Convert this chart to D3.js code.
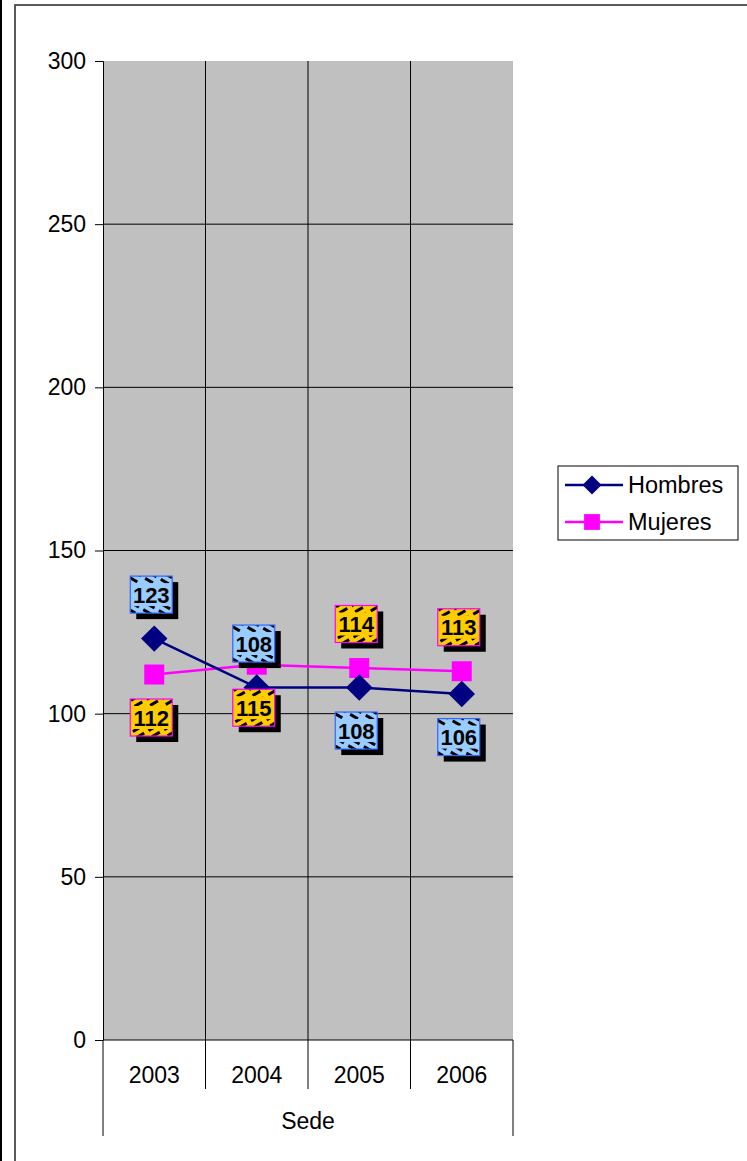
<!DOCTYPE html>
<html>
<head>
<meta charset="utf-8">
<script src="https://cdn.jsdelivr.net/npm/d3@7"></script>
<style>
  body { margin: 0; background: #fff; }
  svg { display: block; font-family: "Liberation Sans", Arial, sans-serif; }
</style>
</head>
<body>
<div id="chart"></div>
<script>
const years = ['2003', '2004', '2005', '2006'];
const hombres = [123, 108, 108, 106];
const mujeres = [112, 115, 114, 113];
const yTicks = [0, 50, 100, 150, 200, 250, 300];
const hombresLabelSide = ['above', 'above', 'below', 'below'];
const mujeresLabelSide = ['below', 'below', 'above', 'above'];
const axisTitle = 'Sede';
const seriesNames = ['Hombres', 'Mujeres'];

const width = 747;
const height = 1161;
const plot = { left: 103, right: 513, top: 61, bottom: 1040 };
const fontSize = 23;

const svg = d3.select('#chart').append('svg')
  .attr('width', width)
  .attr('height', height);

const defs = svg.append('defs');

function hatch(id, angle) {
  const p = defs.append('pattern')
    .attr('id', id)
    .attr('patternUnits', 'userSpaceOnUse')
    .attr('width', 14)
    .attr('height', 7)
    .attr('patternTransform', `rotate(${angle})`);
  p.append('rect')
    .attr('width', 9)
    .attr('height', 3)
    .attr('fill', '#000');
}
hatch('hatch-h', 30);
hatch('hatch-m', -30);

// outer frame
svg.append('line')
  .attr('x1', 1).attr('x2', 1).attr('y1', 0).attr('y2', height)
  .attr('stroke', '#000').attr('stroke-width', 2);
svg.append('rect')
  .attr('x', 15).attr('y', 5)
  .attr('width', width + 10).attr('height', height + 10)
  .attr('fill', 'none')
  .attr('stroke', '#333').attr('stroke-width', 1.6);

const x = d3.scaleBand()
  .domain(years)
  .range([plot.left, plot.right]);

const y = d3.scaleLinear()
  .domain([0, 300])
  .range([plot.bottom, plot.top]);

// plot area
svg.append('rect')
  .attr('x', plot.left).attr('y', plot.top)
  .attr('width', plot.right - plot.left)
  .attr('height', plot.bottom - plot.top)
  .attr('fill', '#c0c0c0');

// horizontal gridlines
svg.append('g')
  .selectAll('line')
  .data(yTicks.filter(t => t > 0 && t < 300))
  .join('line')
    .attr('x1', plot.left).attr('x2', plot.right)
    .attr('y1', d => y(d)).attr('y2', d => y(d))
    .attr('stroke', '#000').attr('stroke-width', 1);

// vertical gridlines between categories
svg.append('g')
  .selectAll('line')
  .data(years.slice(1))
  .join('line')
    .attr('x1', d => x(d)).attr('x2', d => x(d))
    .attr('y1', plot.top).attr('y2', plot.bottom)
    .attr('stroke', '#000').attr('stroke-width', 1);

// y axis
const yAxis = svg.append('g')
  .attr('transform', `translate(${plot.left},0)`)
  .call(d3.axisLeft(y).tickValues(yTicks).tickSize(8).tickPadding(9));
yAxis.select('.domain').attr('stroke', '#000');
yAxis.selectAll('.tick line').attr('stroke', '#000');
yAxis.selectAll('text')
  .attr('font-size', fontSize)
  .attr('font-family', '"Liberation Sans", Arial, sans-serif')
  .attr('fill', '#000');

// x axis with grouping level
svg.append('line')
  .attr('x1', plot.left).attr('x2', plot.right)
  .attr('y1', plot.bottom).attr('y2', plot.bottom)
  .attr('stroke', '#000');

const bounds = years.map(d => x(d)).concat([x.range()[1]]);
svg.append('g')
  .selectAll('line')
  .data(bounds)
  .join('line')
    .attr('x1', d => d).attr('x2', d => d)
    .attr('y1', plot.bottom)
    .attr('y2', (d, i) => (i === 0 || i === bounds.length - 1) ? 1136 : 1089)
    .attr('stroke', '#000');

svg.append('g')
  .selectAll('text')
  .data(years)
  .join('text')
    .attr('x', d => x(d) + x.bandwidth() / 2)
    .attr('y', 1083)
    .attr('text-anchor', 'middle')
    .attr('font-size', fontSize)
    .text(d => d);

svg.append('text')
  .attr('x', (plot.left + plot.right) / 2)
  .attr('y', 1129)
  .attr('text-anchor', 'middle')
  .attr('font-size', fontSize)
  .text(axisTitle);

// series
const cx = d => x(d) + x.bandwidth() / 2;

const line = d3.line()
  .x(d => cx(d.year))
  .y(d => y(d.value));

const mData = years.map((yr, i) => ({ year: yr, value: mujeres[i], side: mujeresLabelSide[i] }));
const hData = years.map((yr, i) => ({ year: yr, value: hombres[i], side: hombresLabelSide[i] }));

svg.append('path')
  .datum(mData)
  .attr('d', line)
  .attr('fill', 'none')
  .attr('stroke', '#ff00ff')
  .attr('stroke-width', 2.5);

svg.append('g')
  .selectAll('path')
  .data(mData)
  .join('path')
    .attr('d', d3.symbol(d3.symbolSquare, 400))
    .attr('transform', d => `translate(${cx(d.year)},${y(d.value)})`)
    .attr('fill', '#ff00ff');

svg.append('path')
  .datum(hData)
  .attr('d', line)
  .attr('fill', 'none')
  .attr('stroke', '#000080')
  .attr('stroke-width', 2.5);

svg.append('g')
  .selectAll('path')
  .data(hData)
  .join('path')
    .attr('d', d3.symbol(d3.symbolSquare, 350))
    .attr('transform', d => `translate(${cx(d.year)},${y(d.value)}) rotate(45)`)
    .attr('fill', '#000080');

// data labels
const boxW = 42;
const boxH = 37;

function drawLabels(data, fill, stroke, patternId) {
  const g = svg.append('g')
    .selectAll('g')
    .data(data)
    .join('g')
      .attr('transform', d => {
        const px = cx(d.year) - 3;
        const py = y(d.value) + (d.side === 'above' ? -44 : 43);
        return `translate(${px - boxW / 2},${py - boxH / 2})`;
      });

  g.append('rect')
    .attr('x', 6).attr('y', 6)
    .attr('width', boxW).attr('height', boxH)
    .attr('fill', '#000');
  g.append('rect')
    .attr('width', boxW).attr('height', boxH)
    .attr('fill', fill);
  g.append('rect')
    .attr('width', boxW).attr('height', 7)
    .attr('fill', `url(#${patternId})`);
  g.append('rect')
    .attr('y', boxH - 7)
    .attr('width', boxW).attr('height', 7)
    .attr('fill', `url(#${patternId})`);
  g.append('rect')
    .attr('width', boxW).attr('height', boxH)
    .attr('fill', 'none')
    .attr('stroke', stroke)
    .attr('stroke-width', 1.2);
  g.append('text')
    .attr('x', boxW / 2)
    .attr('y', boxH / 2 + 8)
    .attr('text-anchor', 'middle')
    .attr('font-size', 22)
    .attr('font-weight', 'bold')
    .text(d => d.value);
}

drawLabels(hData, '#99ccff', '#3366ff', 'hatch-h');
drawLabels(mData, '#ffcc00', '#ff00ff', 'hatch-m');

// legend
const legend = svg.append('g').attr('transform', 'translate(558,466)');
legend.append('rect')
  .attr('width', 180).attr('height', 74)
  .attr('fill', '#fff')
  .attr('stroke', '#000').attr('stroke-width', 1);

const legendItems = legend.selectAll('g')
  .data(seriesNames)
  .join('g')
    .attr('transform', (d, i) => `translate(0,${19 + i * 37})`);

legendItems.append('line')
  .attr('x1', 7).attr('x2', 65)
  .attr('stroke', (d, i) => i === 0 ? '#000080' : '#ff00ff')
  .attr('stroke-width', 2.5);

legendItems.append('path')
  .attr('d', (d, i) => i === 0
    ? d3.symbol(d3.symbolSquare, 180)()
    : d3.symbol(d3.symbolSquare, 250)())
  .attr('transform', (d, i) => i === 0 ? 'translate(34,0) rotate(45)' : 'translate(34,0)')
  .attr('fill', (d, i) => i === 0 ? '#000080' : '#ff00ff');

legendItems.append('text')
  .attr('x', 70)
  .attr('y', 8)
  .attr('font-size', 23.5)
  .text(d => d);
</script>
</body>
</html>
